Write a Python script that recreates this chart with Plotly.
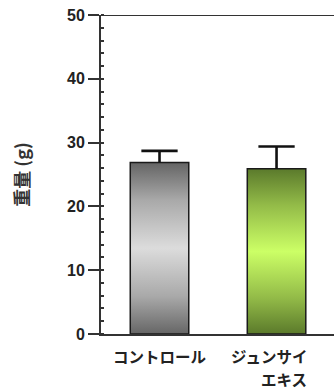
import plotly.graph_objects as go

# Body weight per group (mean and upper SD)
groups = ["コントロール", "ジュンサイ<br>エキス"]
weights = [26.9, 25.9]
errors = [1.8, 3.5]
y_max = 50

# Vertical gradient fills for each bar (bottom -> middle -> top)
gradients = [
    [[0.0, "#666666"], [0.22, "#a9a9a9"], [0.5, "#dcdcdc"], [0.78, "#a9a9a9"], [1.0, "#646464"]],
    [[0.0, "#5b7a2b"], [0.22, "#93bb48"], [0.5, "#ccff66"], [0.78, "#93bb48"], [1.0, "#5b7a2c"]],
]

BAR_W = 0.5
CAP_HALF = 0.155
fig = go.Figure()

for i, (v, cs) in enumerate(zip(weights, gradients)):
    x0, x1 = i - BAR_W / 2, i + BAR_W / 2
    fig.add_trace(go.Scatter(
        x=[x0, x1, x1, x0, x0],
        y=[0, 0, v, v, 0],
        mode="lines",
        fill="toself",
        fillgradient=dict(type="vertical", colorscale=cs, start=0, stop=v),
        line=dict(color="#1a1a1a", width=1.5),
        hoverinfo="skip",
        showlegend=False,
    ))

# Upper whiskers: stem from bar top plus a horizontal cap
for i, (v, e) in enumerate(zip(weights, errors)):
    fig.add_trace(go.Scatter(
        x=[i, i, None, i - CAP_HALF, i + CAP_HALF],
        y=[v, v + e, None, v + e, v + e],
        mode="lines",
        line=dict(color="#111111", width=2.6),
        hoverinfo="skip",
        showlegend=False,
    ))

axis_font = dict(family="Liberation Sans, Arial, sans-serif", size=16, color="#222222")
label_font = dict(family="Noto Sans CJK JP", size=15.5, color="#222222")

# Category labels; the second one wraps onto two right-aligned lines
label_lines = [line for g in groups for line in g.split("<br>")]
labels = [
    dict(x=0, text=label_lines[0], xanchor="center", yshift=-22),
    dict(x=1.265, text=label_lines[1], xanchor="right", yshift=-22),
    dict(x=1.265, text=label_lines[2], xanchor="right", yshift=-44.5),
]
annotations = [
    dict(x=l["x"], y=0, xref="x", yref="paper", text=f"<b>{l['text']}</b>",
         showarrow=False, xanchor=l["xanchor"], yanchor="middle", borderpad=0,
         yshift=l["yshift"], font=label_font)
    for l in labels
]

fig.update_layout(
    width=334, height=390,
    margin=dict(l=101, r=0, t=15, b=56),
    paper_bgcolor="white", plot_bgcolor="white",
    showlegend=False,
    xaxis=dict(
        range=[-0.5, 1.491],
        tickmode="array",
        tickvals=list(range(len(groups))),
        showticklabels=False,
        ticks="", showgrid=False, zeroline=False,
        showline=True, linecolor="#333333", linewidth=2,
    ),
    yaxis=dict(
        range=[0, y_max],
        tickvals=[0, 10, 20, 30, 40, 50],
        ticktext=[f"<b>{t}</b>" for t in [0, 10, 20, 30, 40, 50]],
        tickfont=axis_font,
        ticks="outside", ticklen=11, tickwidth=2, tickcolor="#333333",
        minor=dict(ticks="inside", ticklen=3, tickwidth=1.5, dtick=2, tickcolor="#333333"),
        showgrid=False, zeroline=False,
        showline=True, linecolor="#333333", linewidth=2,
        title=dict(text="<b>重量 (g)</b>",
                   font=dict(family="Noto Sans CJK JP", size=18, color="#333333"),
                   standoff=33),
    ),
    annotations=annotations,
    shapes=[dict(type="line", xref="paper", yref="y", x0=0, x1=1,
                 y0=y_max, y1=y_max, line=dict(color="#333333", width=2))],
)

fig.write_html("out.html")
